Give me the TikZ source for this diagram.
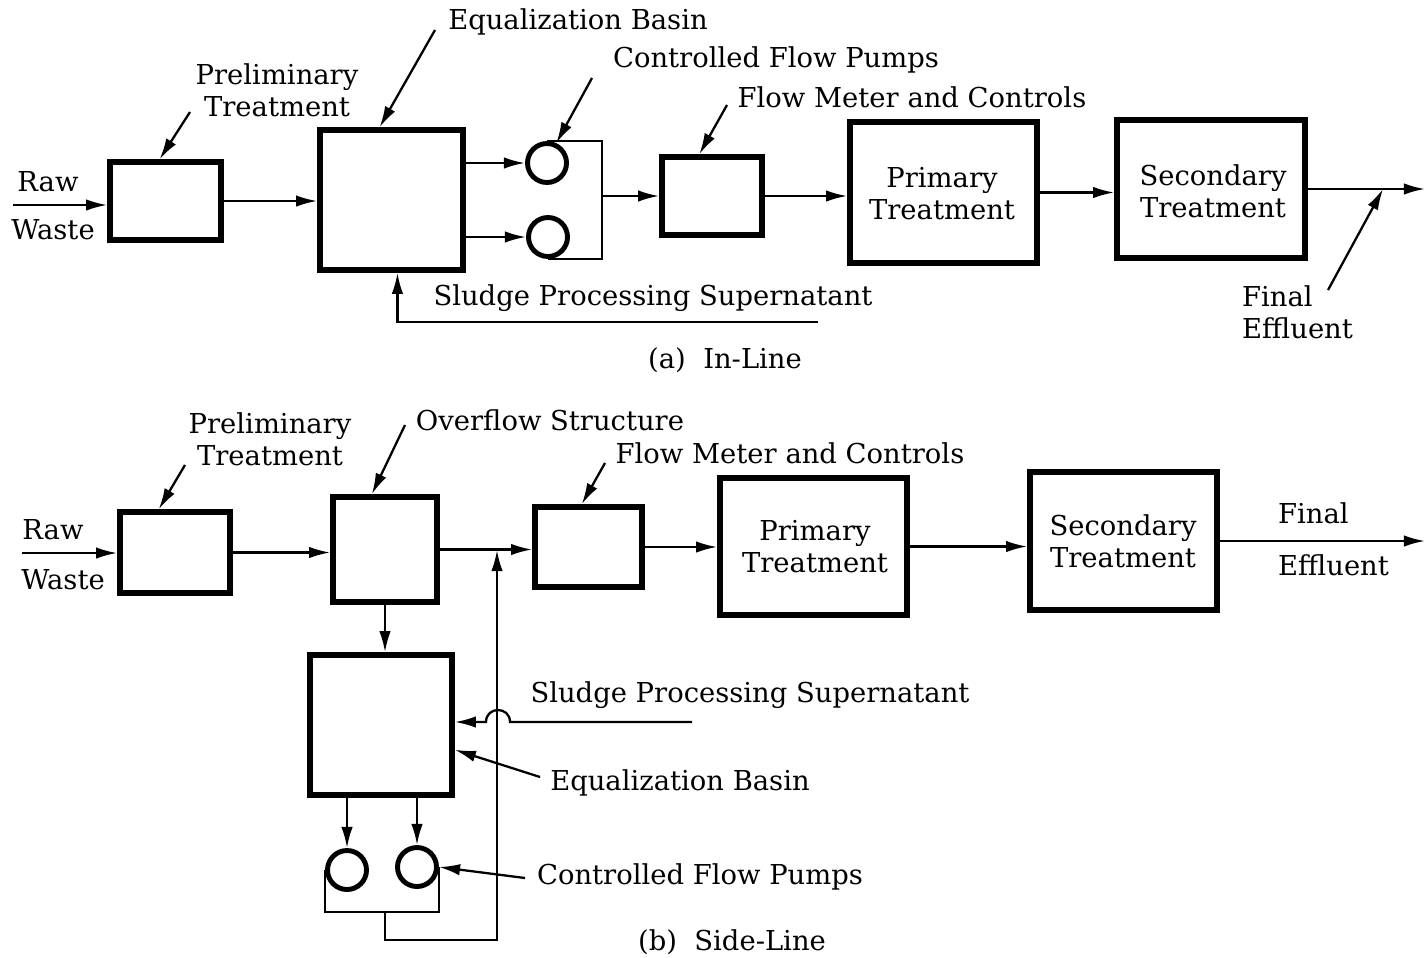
\documentclass[tikz,border=0pt]{standalone}
\usepackage{fontspec}
\setmainfont{DejaVu Serif}
\usetikzlibrary{arrows.meta,fit,calc}

\tikzset{
  unit/.style={draw, line width=3.2pt, inner sep=0pt},
  pump/.style={draw, circle, line width=2.8pt, minimum size=0.78cm, inner sep=0pt},
  flow/.style={line width=1.3pt, -{Latex[length=12pt,width=6.5pt]}},
  pipe/.style={line width=1.3pt},
  lbl/.style={font=\fontsize{15.6}{18.2}\selectfont, align=center, inner sep=1pt},
}

\begin{document}
\begin{tikzpicture}[x=0.02cm, y=-0.02cm]
	\useasboundingbox (0,0) rectangle (1425,957);

	% (a) in-line
	\node[unit, fit={(110,162) (221,240)}] (pa) {};
	\node[unit, fit={(320,130) (463,270)}] (ea) {};
	\node[pump] (p1a) at (547,163) {};
	\node[pump] (p2a) at (548,237) {};
	\node[unit, fit={(662,157) (762,235)}] (fa) {};
	\node[unit, fit={(850,122) (1037,263)}] (pra) {};
	\node[unit, fit={(1117,120) (1305,258)}] (sa) {};
	\node[lbl] (tpra) at (942,194) {Primary\\Treatment};
	\node[lbl] (tsa) at (1213,191) {Secondary\\Treatment};

	\node[lbl] (rawa) at (48,182) {Raw};
	\node[lbl] (wastea) at (53,230) {Waste};
	\node[lbl] (lpa) at (277,90) {Preliminary\\Treatment};
	\node[lbl] (lea) at (578,22) {Equalization Basin};
	\node[lbl] (lca) at (776,60) {Controlled Flow Pumps};
	\node[lbl] (lfa) at (912,97) {Flow Meter and Controls};
	\node[lbl, align=left, anchor=west] (lfe) at (1240,312) {Final\\Effluent};
	\node[lbl] (lsa) at (653,298) {Sludge Processing Supernatant};
	\node[lbl] (capa) at (725,360) {(a)\ \ In-Line};

	\coordinate (rwa) at (13,205);
	\coordinate (ja) at (602,196);
	\coordinate (outa) at (1425,187);
	\coordinate (sla) at (818,322);
	\coordinate (fea) at (1383,189);

	\draw[flow] (rwa) -- (rwa -| pa.west);
	\draw[flow] (pa.east) -- (pa.east -| ea.west);
	\draw[flow] (ea.east |- p1a) -- (p1a.west);
	\draw[flow] (ea.east |- p2a) -- (p2a.west);
	\draw[pipe] (p1a.north) -| (ja) |- (p2a.south);
	\draw[flow] (ja) -- (ja -| fa.west);
	\draw[flow] (fa.east) -- (fa.east -| pra.west);
	\draw[flow] (pra.east) -- (pra.east -| sa.west);
	\draw[flow] (sa.east) -- (sa.east -| outa);
	\draw[flow] (sla) -| ($(ea.south west)!0.54!(ea.south east)$);

	% pointers (a)
	\draw[flow] (190,112) -- ($(pa.north west)!0.45!(pa.north east)$);
	\draw[flow] (435,30) -- ($(ea.north west)!0.42!(ea.north east)$);
	\draw[flow] (592,78) -- (p1a.65);
	\draw[flow] (727,105) -- ($(fa.north west)!0.38!(fa.north east)$);
	\draw[flow] (1328,290) -- (fea);

	% (b) side-line
	\node[unit, fit={(120,512) (230,593)}] (pb) {};
	\node[unit, fit={(333,497) (437,602)}] (ob) {};
	\node[unit, fit={(535,507) (642,587)}] (fb) {};
	\node[unit, fit={(720,478) (907,615)}] (prb) {};
	\node[unit, fit={(1030,472) (1217,610)}] (sb) {};
	\node[unit, fit={(310,655) (452,795)}] (eb) {};
	\node[pump] (p1b) at (347,870) {};
	\node[pump] (p2b) at (417,867) {};
	\node[lbl] (tprb) at (815,547) {Primary\\Treatment};
	\node[lbl] (tsb) at (1123,541) {Secondary\\Treatment};

	\node[lbl] (rawb) at (53,530) {Raw};
	\node[lbl] (wasteb) at (63,580) {Waste};
	\node[lbl] (lpb) at (270,439) {Preliminary\\Treatment};
	\node[lbl] (lob) at (550,420) {Overflow Structure};
	\node[lbl] (lfb) at (790,453) {Flow Meter and Controls};
	\node[lbl, anchor=west] (lfinal) at (1276,513) {Final};
	\node[lbl, anchor=west] (leff) at (1276,565) {Effluent};
	\node[lbl] (lsb) at (750,695) {Sludge Processing Supernatant};
	\node[lbl] (leb) at (680,783) {Equalization Basin};
	\node[lbl] (lcb) at (700,877) {Controlled Flow Pumps};
	\node[lbl] (capb) at (732,942) {(b)\ \ Side-Line};

	\coordinate (rwb) at (22,553);
	\coordinate (jb) at (497,550);
	\coordinate (loopb) at (385,912);
	\coordinate (outb) at (1425,541);
	\coordinate (slb) at (692,722);

	\draw[flow] (rwb) -- (rwb -| pb.west);
	\draw[flow] (pb.east) -- (pb.east -| ob.west);
	\draw[flow] (ob.east) -- (ob.east -| fb.west);
	\draw[flow] (fb.east) -- (fb.east -| prb.west);
	\draw[flow] (prb.east) -- (prb.east -| sb.west);
	\draw[flow] (sb.east) -- (sb.east -| outb);
	\draw[flow] (ob.south) -- (ob.south |- eb.north);
	\draw[flow] (eb.south -| p1b) -- (p1b.north);
	\draw[flow] (eb.south -| p2b) -- (p2b.north);
	\draw[pipe] (p1b.west) |- (loopb) -| (p2b.east);
	\draw[flow] (loopb) -- ++(0,28) -| (jb);
	\draw[flow] (slb) -- ++(-182,0) .. controls +(0,-16) and +(0,-16) .. ++(-24,0) -- (eb.east |- slb);

	% pointers (b)
	\draw[flow] (185,465) -- ($(pb.north west)!0.36!(pb.north east)$);
	\draw[flow] (405,425) -- ($(ob.north west)!0.38!(ob.north east)$);
	\draw[flow] (605,463) -- ($(fb.north west)!0.44!(fb.north east)$);
	\draw[flow] (540,777) -- ($(eb.north east)!0.67!(eb.south east)$);
	\draw[flow] (525,878) -- (p2b.east);
\end{tikzpicture}
\end{document}
